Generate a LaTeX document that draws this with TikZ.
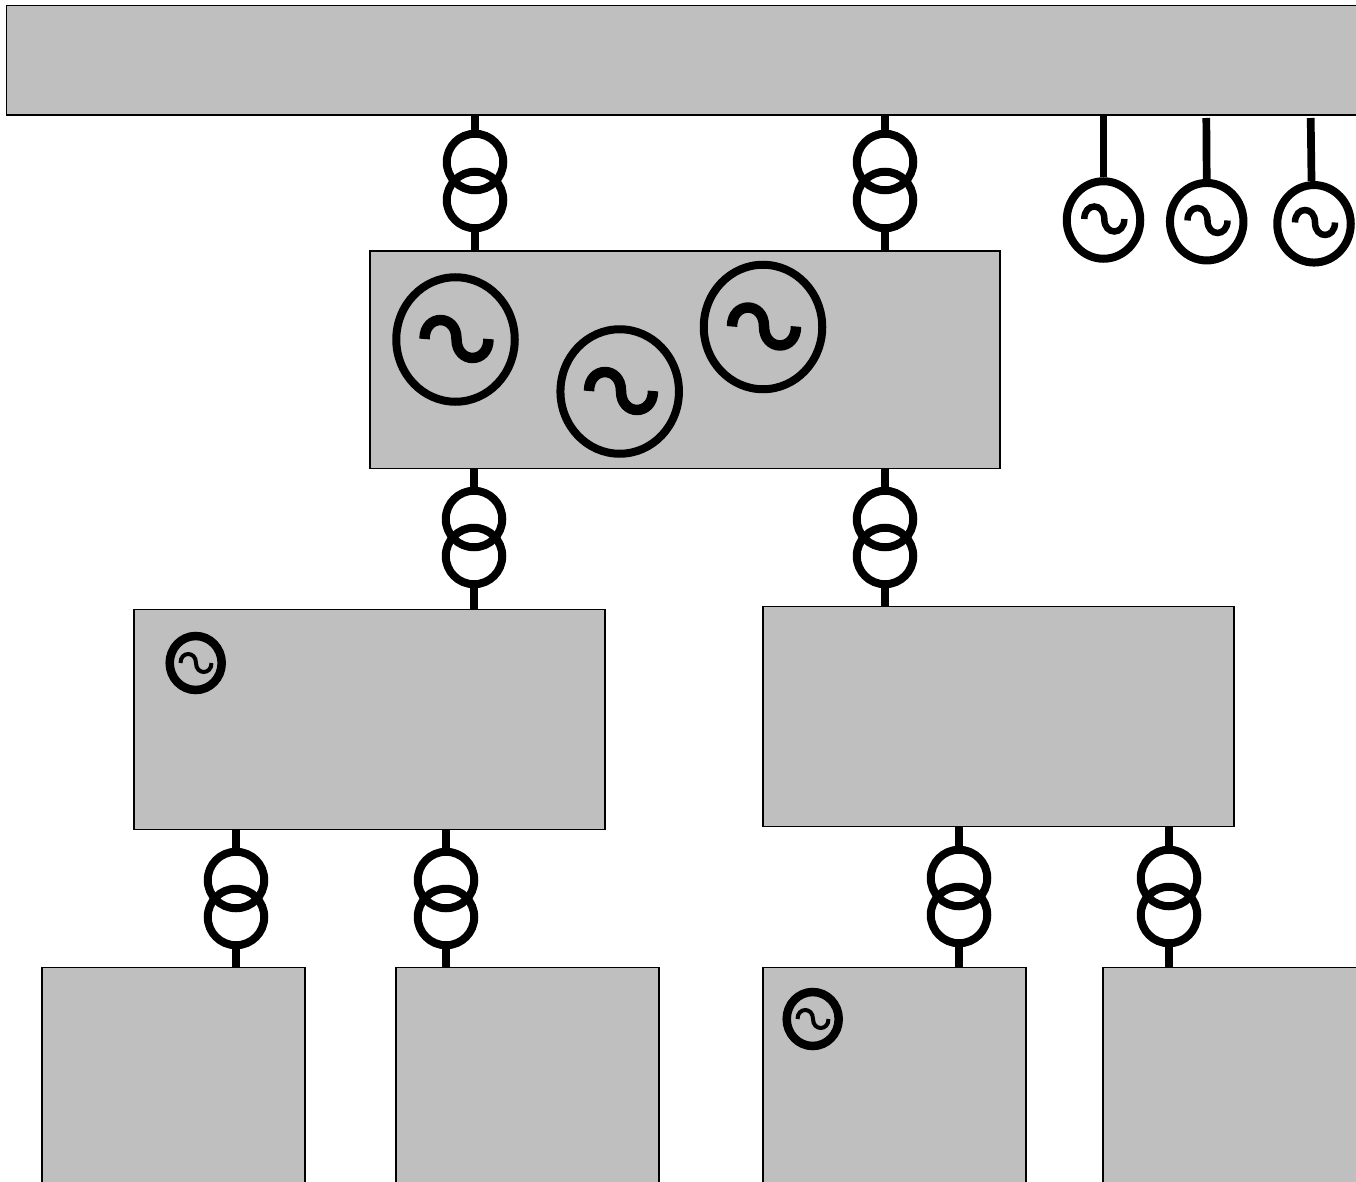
\documentclass[tikz,border=0pt]{standalone}
\usepackage{xcolor}
\definecolor{AreaGray}{HTML}{BFBFBF}
\usetikzlibrary{shapes.geometric}
\tikzset{
  areabox/.style={draw=black,fill=AreaGray,line width=1.5pt,anchor=north west,inner sep=0pt},
  coil/.style={draw=black,circle,line width=8pt,minimum size=56.5pt,inner sep=0pt},
  wire/.style={draw=black,line width=7.7pt},
  genbig/.style={draw=black,ellipse,line width=8pt,minimum width=118.5pt,minimum height=124.5pt,inner sep=0pt},
  genmid/.style={draw=black,ellipse,line width=8pt,minimum width=73.5pt,minimum height=77.5pt,inner sep=0pt},
  gensmall/.style={draw=black,ellipse,line width=8.5pt,minimum width=52pt,minimum height=54pt,inner sep=0pt},
  pics/wave/.style={code={
    \draw[line cap=butt,pic actions]
      (-1,0) .. controls (-1,-1.33) and (0,-1.33) .. (0,0)
      .. controls (0,1.33) and (1,1.33) .. (1,0);}},
  wavebig/.style={xscale=32,yscale=19,line width=10.5pt},
  wavemid/.style={xscale=20,yscale=12.5,line width=6.5pt},
  wavesmall/.style={xscale=15.5,yscale=9,line width=4pt}
}
\begin{document}
\begin{tikzpicture}[x=1pt,y=-1pt]
  \useasboundingbox (0,0) rectangle (1356,1182);
  % Areas
  \node[areabox,minimum width=1370pt,minimum height=109.5pt] (Bus) at (5.6,5) {};
  \node[areabox,minimum width=630pt,minimum height=217pt] (AreaA) at (369,250.5) {};
  \node[areabox,minimum width=471pt,minimum height=220pt] (AreaB) at (133.3,608.5) {};
  \node[areabox,minimum width=471pt,minimum height=220pt] (AreaC) at (762.3,605.5) {};
  \node[areabox,minimum width=263pt,minimum height=240pt] (LeafA) at (41,966.5) {};
  \node[areabox,minimum width=263pt,minimum height=240pt] (LeafB) at (395,966.5) {};
  \node[areabox,minimum width=263pt,minimum height=240pt] (LeafC) at (762,966.5) {};
  \node[areabox,minimum width=263pt,minimum height=240pt] (LeafD) at (1102,966.5) {};
  % Bus to area A
  \node[coil] (T1a) at (475,162) {};
  \node[coil] (T1b) at (475,200) {};
  \draw[wire] (Bus.south -| T1a) -- (T1a.north);
  \draw[wire] (T1b.south) -- (AreaA.north -| T1b);
  \node[coil] (T2a) at (885,162) {};
  \node[coil] (T2b) at (885,200) {};
  \draw[wire] (Bus.south -| T2a) -- (T2a.north);
  \draw[wire] (T2b.south) -- (AreaA.north -| T2b);
  % Area A to areas B and C
  \node[coil] (T3a) at (474,519) {};
  \node[coil] (T3b) at (474,556) {};
  \draw[wire] (AreaA.south -| T3a) -- (T3a.north);
  \draw[wire] (T3b.south) -- (AreaB.north -| T3b);
  \node[coil] (T4a) at (885,519) {};
  \node[coil] (T4b) at (885,556) {};
  \draw[wire] (AreaA.south -| T4a) -- (T4a.north);
  \draw[wire] (T4b.south) -- (AreaC.north -| T4b);
  % Area B to leaves
  \node[coil] (T5a) at (236,880) {};
  \node[coil] (T5b) at (236,917) {};
  \draw[wire] (AreaB.south -| T5a) -- (T5a.north);
  \draw[wire] (T5b.south) -- (LeafA.north -| T5b);
  \node[coil] (T6a) at (446,880) {};
  \node[coil] (T6b) at (446,917) {};
  \draw[wire] (AreaB.south -| T6a) -- (T6a.north);
  \draw[wire] (T6b.south) -- (LeafB.north -| T6b);
  % Area C to leaves
  \node[coil] (T7a) at (959,878) {};
  \node[coil] (T7b) at (959,915) {};
  \draw[wire] (AreaC.south -| T7a) -- (T7a.north);
  \draw[wire] (T7b.south) -- (LeafC.north -| T7b);
  \node[coil] (T8a) at (1169,878) {};
  \node[coil] (T8b) at (1169,915) {};
  \draw[wire] (AreaC.south -| T8a) -- (T8a.north);
  \draw[wire] (T8b.south) -- (LeafD.north -| T8b);
  % Generators on the bus
  \node[genmid] (GenA) at (1103.5,220) {};
  \node[genmid] (GenB) at (1206.7,221.7) {};
  \node[genmid] (GenC) at (1314,223.8) {};
  \coordinate (FreeB) at (1206.3,118);
  \coordinate (FreeC) at (1310.7,118);
  \draw[wire] (Bus.south -| GenA) -- (GenA.north);
  \draw[wire] (FreeB) -- (GenB.north);
  \draw[wire] (FreeC) -- ([xshift=-2.5pt]GenC.north);
  \pic[wavemid] at (1104.3,219) {wave};
  \pic[wavemid] at (1207.5,220.5) {wave};
  \pic[wavemid] at (1315,222.5) {wave};
  % Generators in area A
  \node[genbig] (GenD) at (455.5,339.5) {};
  \node[genbig] (GenE) at (619.7,391.5) {};
  \node[genbig] (GenF) at (763,327) {};
  \pic[wavebig] at (456.5,339) {wave};
  \pic[wavebig] at (621,391) {wave};
  \pic[wavebig] at (764,326.5) {wave};
  % Small generators
  \node[gensmall] (GenG) at (195.7,663) {};
  \node[gensmall] (GenH) at (812.7,1019) {};
  \pic[wavesmall] at (196,663) {wave};
  \pic[wavesmall] at (813,1019) {wave};
\end{tikzpicture}
\end{document}
